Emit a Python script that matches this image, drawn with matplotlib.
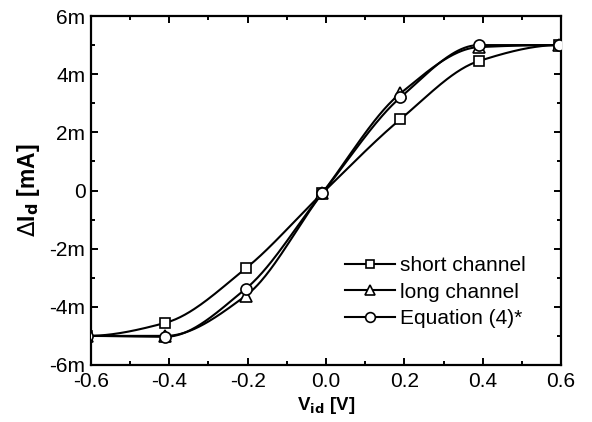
import numpy as np
from matplotlib import pyplot as plt
from matplotlib.ticker import MultipleLocator, FuncFormatter

plt.rcParams["font.family"] = ["Liberation Sans", "DejaVu Sans"]

# V_id [V] and delta I_d [m]
v_id = [-0.61, -0.41, -0.205, -0.01, 0.19, 0.39, 0.595]
short_channel = [-5.0, -4.55, -2.68, -0.1, 2.45, 4.45, 5.0]
long_channel = [-5.0, -5.0, -3.62, -0.1, 3.34, 4.93, 5.0]
equation_4 = [-5.0, -5.03, -3.38, -0.1, 3.2, 5.0, 5.0]
labels = ["short channel", "long channel", "Equation (4)*"]
markers = ["s", "^", "o"]
marker_sizes = [7, 8, 8]


# monotone cubic (pchip) line through the measured points, flat at both ends
def smooth_line(x, y, n=300):
    x = np.asarray(x, float)
    y = np.asarray(y, float)
    h = np.diff(x)
    d = np.diff(y) / h
    m = np.zeros_like(y)
    for k in range(1, len(x) - 1):
        if d[k - 1] * d[k] > 0:
            w1 = 2 * h[k] + h[k - 1]
            w2 = h[k] + 2 * h[k - 1]
            m[k] = (w1 + w2) / (w1 / d[k - 1] + w2 / d[k])
    xs = np.linspace(x[0], x[-1], n)
    idx = np.clip(np.searchsorted(x, xs) - 1, 0, len(x) - 2)
    t = (xs - x[idx]) / h[idx]
    h00 = 2 * t**3 - 3 * t**2 + 1
    h10 = t**3 - 2 * t**2 + t
    h01 = -2 * t**3 + 3 * t**2
    h11 = t**3 - t**2
    ys = h00 * y[idx] + h10 * h[idx] * m[idx] + h01 * y[idx + 1] + h11 * h[idx] * m[idx + 1]
    return xs, ys


fig = plt.figure(figsize=(5.92, 4.22), dpi=100)
ax = fig.add_axes([91 / 592, 1 - 365 / 422, (561 - 91) / 592, (365 - 16) / 422])

for series, label, mk, ms in zip([short_channel, long_channel, equation_4], labels, markers, marker_sizes):
    xs, ys = smooth_line(v_id, series)
    ax.plot(xs, ys, color="black", lw=1.5, zorder=2)
    ax.plot(v_id, series, linestyle="none", marker=mk, ms=ms, mfc="white", mec="black", mew=1.2, zorder=3)
    ax.plot([], [], color="black", lw=1.5, marker=mk, ms=ms - 1, mfc="white", mec="black", mew=1.2, label=label)

ax.set_xlim(-0.6, 0.6)
ax.set_ylim(-6, 6)
ax.xaxis.set_major_locator(MultipleLocator(0.2))
ax.xaxis.set_minor_locator(MultipleLocator(0.1))
ax.yaxis.set_major_locator(MultipleLocator(2))
ax.yaxis.set_minor_locator(MultipleLocator(1))
ax.xaxis.set_major_formatter(FuncFormatter(lambda v, p: f"{v:.1f}".replace("-0.0", "0.0")))
ax.yaxis.set_major_formatter(FuncFormatter(lambda v, p: "0" if abs(v) < 1e-9 else f"{int(round(v))}m"))
ax.tick_params(which="both", direction="in", top=True, right=True, labelsize=15, width=1.4)
ax.tick_params(axis="x", pad=5)
ax.tick_params(axis="y", pad=4)
ax.tick_params(which="major", length=5)
ax.tick_params(which="minor", length=3)
for s in ax.spines.values():
    s.set_linewidth(1.6)

ax.set_xlabel(r"V$_{\mathbf{id}}$ [V]", fontsize=13.5, fontweight="bold", labelpad=3)
ax.set_ylabel(r"$\Delta$I$_{\mathbf{d}}$ [mA]", fontsize=16.5, fontweight="bold", labelpad=5)

ax.legend(loc="lower right", bbox_to_anchor=(0.957, 0.064), frameon=False, fontsize=15,
          handlelength=2.4, handletextpad=0.25, labelspacing=0.35, borderaxespad=0.3)

fig.savefig("out.png", dpi=100)
